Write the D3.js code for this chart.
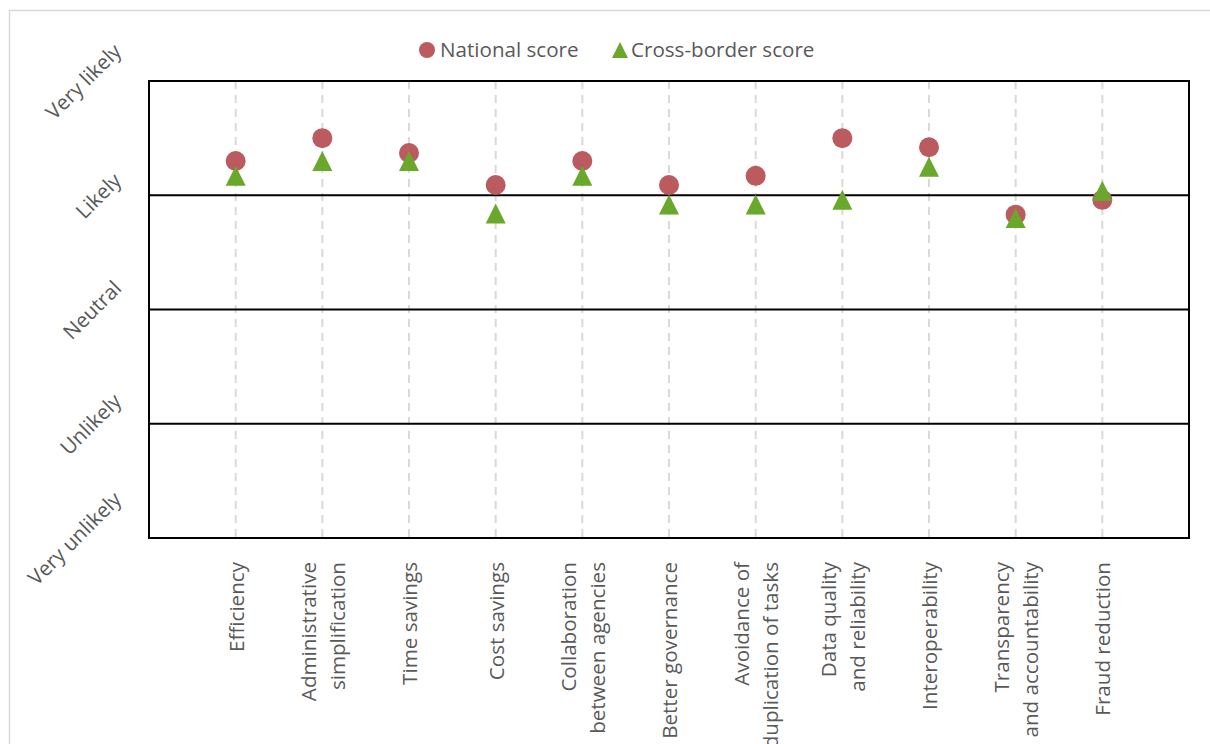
<!DOCTYPE html>
<html>
<head>
<meta charset="utf-8">
<script src="https://cdn.jsdelivr.net/npm/d3@7"></script>
<style>
  html, body { margin: 0; padding: 0; background: #fff; }
  svg { display: block; font-family: "Open Sans", sans-serif; }
</style>
</head>
<body>
<svg id="chart" width="1210" height="744"></svg>
<script>
// Expected benefits, rated on a five-point likelihood scale
const categories = [
  "Efficiency",
  "Administrative\nsimplification",
  "Time savings",
  "Cost savings",
  "Collaboration\nbetween agencies",
  "Better governance",
  "Avoidance of\nduplication of tasks",
  "Data quality\nand reliability",
  "Interoperability",
  "Transparency\nand accountability",
  "Fraud reduction"
];
const nationalScores    = [4.30, 4.50, 4.37, 4.09, 4.30, 4.09, 4.17, 4.50, 4.42, 3.83, 3.96];
const crossBorderScores = [4.17, 4.30, 4.30, 3.84, 4.17, 3.92, 3.92, 3.96, 4.25, 3.80, 4.04];
const levelValues = [1, 2, 3, 4, 5];
const levelLabels = ["Very unlikely", "Unlikely", "Neutral", "Likely", "Very likely"];
const seriesNames = ["National score", "Cross-border score"];

const colors = { national: "#bb5a5f", cross: "#6aa82c", text: "#595959" };
const fontSize = 20.6;
const svg = d3.select("#chart");
const plot = { left: 149, right: 1189, top: 81, bottom: 538 };

const x = d3.scalePoint().domain(categories).range([plot.left, plot.right]).padding(1);
const y = d3.scaleLinear().domain([1, 5]).range([plot.bottom, plot.top]);

// outer chart frame
svg.append("rect")
  .attr("x", 9.5).attr("y", 10.5).attr("width", 1300).attr("height", 900)
  .attr("fill", "none").attr("stroke", "#d9d9d9").attr("stroke-width", 1.5);

// dashed vertical gridlines at each category
svg.append("g").selectAll("line").data(categories).join("line")
  .attr("x1", d => x(d)).attr("x2", d => x(d))
  .attr("y1", plot.top).attr("y2", plot.bottom)
  .attr("stroke", "#d9d9d9").attr("stroke-width", 2)
  .attr("stroke-dasharray", "8,6");

// horizontal gridlines between levels
svg.append("g").selectAll("line").data(levelValues.slice(1, -1)).join("line")
  .attr("x1", plot.left).attr("x2", plot.right)
  .attr("y1", d => y(d)).attr("y2", d => y(d))
  .attr("stroke", "#000").attr("stroke-width", 2);

// plot border
svg.append("rect")
  .attr("x", plot.left).attr("y", plot.top)
  .attr("width", plot.right - plot.left).attr("height", plot.bottom - plot.top)
  .attr("fill", "none").attr("stroke", "#000").attr("stroke-width", 2);

// y level labels, rotated -45deg, right-aligned and vertically centred on each level
const yLabels = svg.append("g").attr("font-size", fontSize).attr("fill", colors.text);
levelValues.forEach((v, i) => {
  const t = yLabels.append("text")
    .attr("text-anchor", "middle")
    .attr("dominant-baseline", "central")
    .text(levelLabels[i]);
  const w = t.node().getComputedTextLength();
  const cx = 117 - (w / 2) * Math.SQRT1_2;
  t.attr("transform", `translate(${cx},${y(v)}) rotate(-45)`);
});

// category labels, rotated -90deg
const lineStep = 29;
const xLabels = svg.append("g").attr("font-size", fontSize).attr("fill", colors.text);
categories.forEach(c => {
  const lines = c.split("\n");
  const g = xLabels.append("text")
    .attr("text-anchor", "end")
    .attr("dominant-baseline", "central")
    .attr("transform", `translate(${x(c)},${plot.bottom + 24}) rotate(-90)`);
  lines.forEach((ln, j) => {
    g.append("tspan")
      .attr("x", 0)
      .attr("y", (j - (lines.length - 1) / 2) * lineStep)
      .text(ln);
  });
});

// triangle marker path centred on (cx, cy)
const tri = (cx, cy, s) => `M${cx},${cy - s / 2}L${cx + s / 2},${cy + s / 2}L${cx - s / 2},${cy + s / 2}Z`;

// national score markers
svg.append("g").selectAll("circle").data(categories).join("circle")
  .attr("cx", d => x(d))
  .attr("cy", (d, i) => y(nationalScores[i]))
  .attr("r", 10)
  .attr("fill", colors.national);

// cross-border score markers
svg.append("g").selectAll("path").data(categories).join("path")
  .attr("d", (d, i) => tri(x(d), y(crossBorderScores[i]), 20))
  .attr("fill", colors.cross);

// legend
const legend = svg.append("g").attr("font-size", fontSize).attr("fill", colors.text);
legend.append("circle").attr("cx", 427).attr("cy", 50).attr("r", 8).attr("fill", colors.national);
legend.append("text").attr("x", 440).attr("y", 57).text(seriesNames[0]);
legend.append("path").attr("d", tri(620, 50, 16)).attr("fill", colors.cross);
legend.append("text").attr("x", 631).attr("y", 57).text(seriesNames[1]);
</script>
</body>
</html>
